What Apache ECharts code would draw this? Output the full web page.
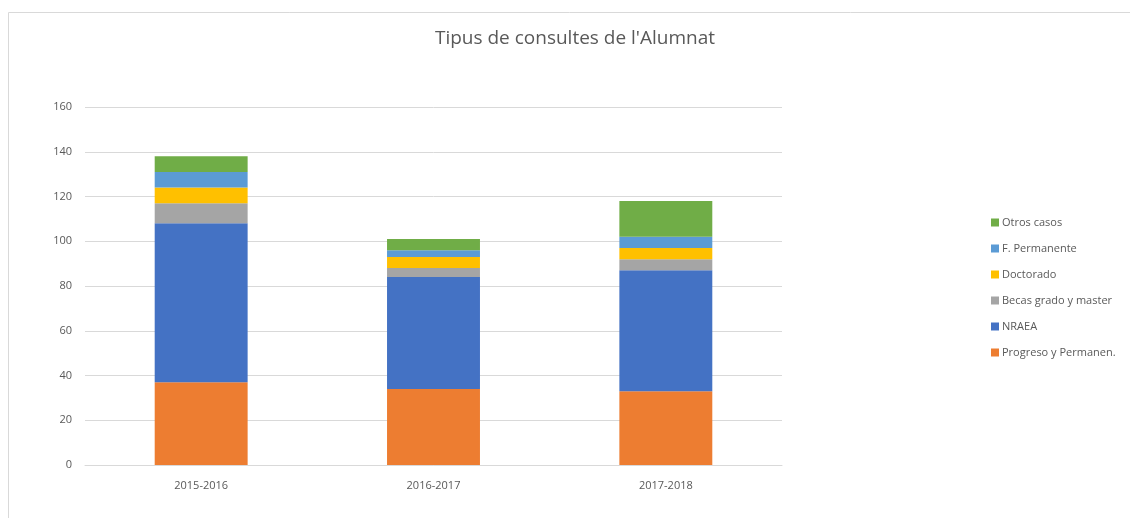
<!DOCTYPE html>
<html>
<head>
<meta charset="utf-8">
<script src="https://cdn.jsdelivr.net/npm/echarts@6/dist/echarts.min.js"></script>
<style>
  html, body { margin: 0; padding: 0; background: #fff; }
  #chart { width: 1130px; height: 518px; }
</style>
</head>
<body>
<div id="chart"></div>
<script>
const years = ["2015-2016", "2016-2017", "2017-2018"];
const seriesNames = ["Progreso y Permanen.", "NRAEA", "Becas grado y master", "Doctorado", "F. Permanente", "Otros casos"];
const progreso = [37, 34, 33];
const nraea = [71, 50, 54];
const becas = [9, 4, 5];
const doctorado = [7, 5, 5];
const fPermanente = [7, 3, 5];
const otros = [7, 5, 16];
const colors = ["#ED7D31", "#4472C4", "#A5A5A5", "#FFC000", "#5B9BD5", "#70AD47"];

const values = [progreso, nraea, becas, doctorado, fPermanente, otros];
const font = "'Open Sans', sans-serif";

const chart = echarts.init(document.getElementById("chart"));
chart.setOption({
  animation: false,
  color: colors,
  graphic: [{
    type: "rect",
    shape: { x: 8.5, y: 12.5, width: 1200, height: 600 },
    style: { fill: "none", stroke: "#d9d9d9", lineWidth: 1 },
    silent: true
  }],
  title: {
    text: "Tipus de consultes de l'Alumnat",
    left: 570,
    textAlign: "center",
    top: 24,
    textStyle: { fontFamily: font, fontWeight: "normal", fontSize: 19, color: "#595959" }
  },
  legend: {
    orient: "vertical",
    left: 986,
    top: 212,
    itemWidth: 8,
    itemHeight: 8,
    itemGap: 15,
    icon: "rect",
    data: seriesNames.slice().reverse(),
    textStyle: { fontFamily: font, fontSize: 11, color: "#595959", padding: [0, 0, 0, -2] }
  },
  grid: { left: 85, right: 348, top: 107, bottom: 53 },
  xAxis: {
    type: "category",
    data: years,
    axisLine: { lineStyle: { color: "#d9d9d9" } },
    axisTick: { show: false },
    axisLabel: { fontFamily: font, fontSize: 11, color: "#595959", margin: 15 }
  },
  yAxis: {
    type: "value",
    min: 0,
    max: 160,
    interval: 20,
    axisLine: { show: false },
    axisTick: { show: false },
    splitLine: { lineStyle: { color: "#d9d9d9" } },
    axisLabel: { fontFamily: font, fontSize: 11, color: "#595959", margin: 13 }
  },
  series: seriesNames.map((name, i) => ({
    name: name,
    type: "bar",
    stack: "total",
    barWidth: "40%",
    data: values[i]
  }))
});
</script>
</body>
</html>
